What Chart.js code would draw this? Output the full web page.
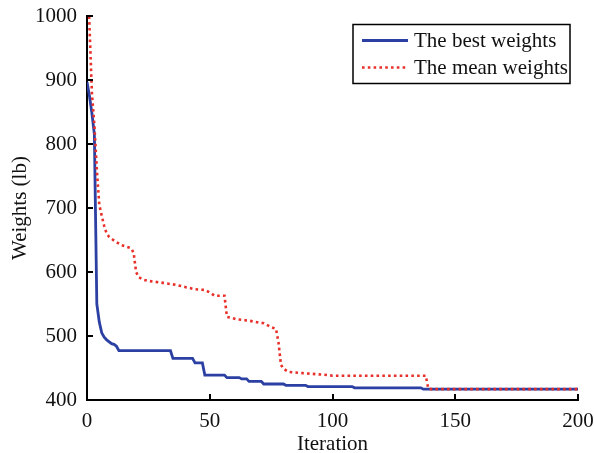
<!DOCTYPE html>
<html>
<head>
<meta charset="utf-8">
<script src="https://cdn.jsdelivr.net/npm/chart.js@4"></script>
<style>
  html, body { margin: 0; padding: 0; background: #fff; }
  #wrap { width: 594px; height: 453px; }
</style>
</head>
<body>
<div id="wrap"><canvas id="weightsChart" width="594" height="453"></canvas></div>
<script>
// iteration breakpoints
const bestIter    = [0, 1, 2, 3, 4, 5, 6, 7, 8, 10, 11, 12, 13, 34, 35, 43, 44, 47, 48, 56, 57, 62, 63, 65, 66, 71, 72, 80, 81, 89, 90, 108, 109, 136, 137, 200];
const bestWeights = [897, 875, 848, 815, 550, 522, 505, 498, 494, 488, 487, 484, 477, 477, 465, 465, 458, 458, 439, 439, 435, 435, 433, 433, 429, 429, 425, 425, 423, 423, 421, 421, 419, 419, 417, 417];

const meanIter    = [0, 1, 2, 3, 4, 5, 6, 7, 8, 9, 11, 14, 18, 19, 20, 21, 23, 25, 31, 36, 44, 48, 50, 52, 56, 57, 61, 66, 70, 72, 75, 77, 78, 79, 80, 82, 88, 98, 100, 138, 139, 140, 200];
const meanWeights = [1090, 985, 880, 830, 760, 705, 688, 672, 660, 655, 649, 642, 637, 630, 600, 592, 588, 586, 583, 580, 573, 572, 568, 563, 563, 530, 526, 524, 521, 520, 514, 511, 490, 455, 449, 444, 442, 439, 438, 438, 418, 417, 417];

const seriesNames = ['The best weights', 'The mean weights'];
const xTicks = [0, 50, 100, 150, 200];
const yTicks = [400, 500, 600, 700, 800, 900, 1000];

const serif = '"Liberation Serif", "Times New Roman", serif';
const blue = '#2b40a2';
const red = '#e8302a';

function toPoints(xs, ys) {
    return xs.map((x, i) => ({ x: x, y: ys[i] }));
}

// ticks point into the plot, like the original figure
const inwardTicks = {
    id: 'inwardTicks',
    afterDraw(chart) {
        const ctx = chart.ctx;
        const xs = chart.scales.x, ys = chart.scales.y;
        const area = chart.chartArea;
        ctx.save();
        ctx.strokeStyle = '#000';
        ctx.lineWidth = 2;
        xTicks.forEach(v => {
            const px = Math.round(xs.getPixelForValue(v));
            ctx.beginPath();
            ctx.moveTo(px, area.bottom);
            ctx.lineTo(px, area.bottom - 6);
            ctx.stroke();
        });
        yTicks.forEach(v => {
            const py = Math.round(ys.getPixelForValue(v));
            ctx.beginPath();
            ctx.moveTo(area.left, py);
            ctx.lineTo(area.left + 6, py);
            ctx.stroke();
        });
        ctx.restore();
    }
};

// boxed legend in the top right corner of the plot
const boxLegend = {
    id: 'boxLegend',
    afterDraw(chart) {
        const ctx = chart.ctx;
        const area = chart.chartArea;
        const right = area.right - 8, top = area.top + 8.5;
        const w = 217, h = 59;
        const left = right - w;
        ctx.save();
        ctx.fillStyle = '#fff';
        ctx.fillRect(left, top, w, h);
        ctx.strokeStyle = '#000';
        ctx.lineWidth = 1.5;
        ctx.strokeRect(left, top, w, h);
        ctx.font = '21px ' + serif;
        ctx.textBaseline = 'middle';
        ctx.fillStyle = '#111';
        chart.data.datasets.forEach((ds, i) => {
            const y = top + 16 + i * 27;
            ctx.beginPath();
            ctx.strokeStyle = ds.borderColor;
            ctx.lineWidth = ds.borderWidth;
            ctx.setLineDash(ds.borderDash || []);
            ctx.moveTo(left + 9, y);
            ctx.lineTo(left + 55, y);
            ctx.stroke();
            ctx.setLineDash([]);
            ctx.fillText(ds.label, left + 61, y + 1);
        });
        ctx.restore();
    }
};

const ctx = document.getElementById('weightsChart').getContext('2d');

const weightsChart = new Chart(ctx, {
    type: 'line',
    data: {
        datasets: [
            {
                label: seriesNames[0],
                data: toPoints(bestIter, bestWeights),
                borderColor: blue,
                borderWidth: 2.8,
                pointRadius: 0,
                tension: 0,
                fill: false,
                order: 2,
            },
            {
                label: seriesNames[1],
                data: toPoints(meanIter, meanWeights),
                borderColor: red,
                borderWidth: 2.6,
                borderDash: [2.6, 3.2],
                pointRadius: 0,
                tension: 0,
                fill: false,
                order: 1,
            },
        ],
    },
    options: {
        responsive: false,
        animation: false,
        layout: { padding: { top: 16, right: 16, left: 0, bottom: 0 } },
        plugins: {
            legend: { display: false },
            tooltip: { enabled: false },
        },
        scales: {
            x: {
                type: 'linear',
                min: 0,
                max: 200,
                afterBuildTicks: s => { s.ticks = xTicks.map(v => ({ value: v })); },
                afterFit: s => { s.height = 53; s.paddingLeft = 0; s.paddingRight = 0; },
                grid: { display: false, drawTicks: false },
                border: { display: true, color: '#000', width: 2 },
                ticks: {
                    color: '#111',
                    font: { family: serif, size: 21 },
                    padding: 9,
                    maxRotation: 0,
                    autoSkip: false,
                    callback: v => String(v),
                },
                title: {
                    display: true,
                    text: 'Iteration',
                    color: '#111',
                    font: { family: serif, size: 21, lineHeight: 1 },
                    padding: { top: 0, bottom: -2 },
                },
            },
            y: {
                min: 400,
                max: 1000,
                afterBuildTicks: s => { s.ticks = yTicks.map(v => ({ value: v })); },
                afterFit: s => { s.width = 87; s.paddingTop = 0; s.paddingBottom = 0; },
                grid: { display: false, drawTicks: false },
                border: { display: true, color: '#000', width: 2 },
                ticks: {
                    color: '#111',
                    font: { family: serif, size: 21 },
                    padding: 10,
                    callback: v => String(v),
                },
                title: {
                    display: true,
                    text: 'Weights (lb)',
                    color: '#111',
                    font: { family: serif, size: 21, lineHeight: 1.2 },
                    padding: { top: 8, bottom: 0 },
                },
            },
        },
    },
    plugins: [inwardTicks, boxLegend],
});
</script>
</body>
</html>
